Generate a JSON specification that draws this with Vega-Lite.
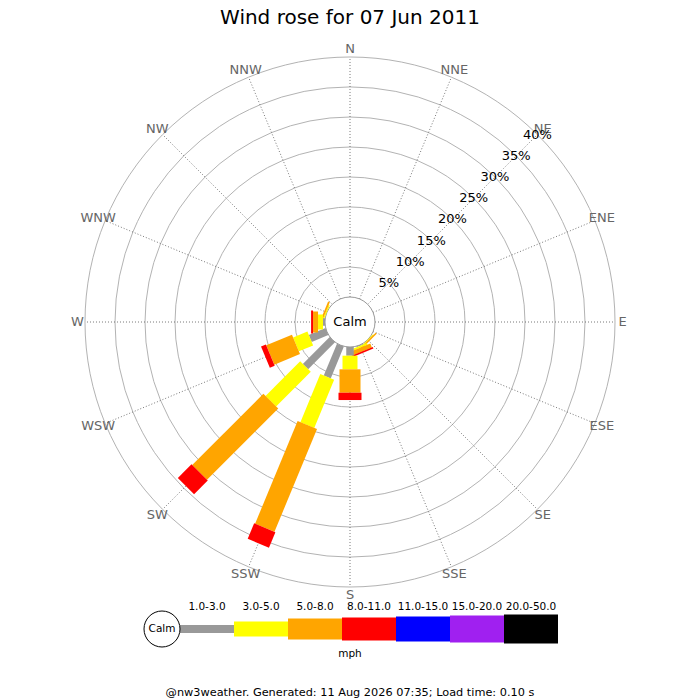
{
  "$schema": "https://vega.github.io/schema/vega-lite/v6.json",
  "padding": 0,
  "spacing": 0,
  "bounds": "flush",
  "usermeta": {"embedOptions": {"actions": false}},
  "config": {"view": {"stroke": null}, "font": "DejaVu Sans"},
  "datasets": {
    "dirs": [
      {"dir": "N", "deg": 0}, {"dir": "NNE", "deg": 22.5}, {"dir": "NE", "deg": 45}, {"dir": "ENE", "deg": 67.5},
      {"dir": "E", "deg": 90}, {"dir": "ESE", "deg": 112.5}, {"dir": "SE", "deg": 135}, {"dir": "SSE", "deg": 157.5},
      {"dir": "S", "deg": 180}, {"dir": "SSW", "deg": 202.5}, {"dir": "SW", "deg": 225}, {"dir": "WSW", "deg": 247.5},
      {"dir": "W", "deg": 270}, {"dir": "WNW", "deg": 292.5}, {"dir": "NW", "deg": 315}, {"dir": "NNW", "deg": 337.5}
    ],
    "rings": [
      {"p": 5}, {"p": 10}, {"p": 15}, {"p": 20}, {"p": 25}, {"p": 30}, {"p": 35}, {"p": 40}
    ],
    "winds": [
      {"dir": "SE", "cls": "3.0-5.0", "pct": 0.12},
      {"dir": "SE", "cls": "5.0-8.0", "pct": 0.25},
      {"dir": "SSE", "cls": "1.0-3.0", "pct": 0.15},
      {"dir": "SSE", "cls": "3.0-5.0", "pct": 0.3},
      {"dir": "SSE", "cls": "5.0-8.0", "pct": 0.7},
      {"dir": "SSE", "cls": "8.0-11.0", "pct": 0.25},
      {"dir": "S", "cls": "1.0-3.0", "pct": 1.45},
      {"dir": "S", "cls": "3.0-5.0", "pct": 2.27},
      {"dir": "S", "cls": "5.0-8.0", "pct": 3.9},
      {"dir": "S", "cls": "8.0-11.0", "pct": 1.22},
      {"dir": "SSW", "cls": "1.0-3.0", "pct": 5.75},
      {"dir": "SSW", "cls": "3.0-5.0", "pct": 8.67},
      {"dir": "SSW", "cls": "5.0-8.0", "pct": 18.53},
      {"dir": "SSW", "cls": "8.0-11.0", "pct": 2.8},
      {"dir": "SW", "cls": "1.0-3.0", "pct": 6.33},
      {"dir": "SW", "cls": "3.0-5.0", "pct": 8.17},
      {"dir": "SW", "cls": "5.0-8.0", "pct": 16.78},
      {"dir": "SW", "cls": "8.0-11.0", "pct": 3.22},
      {"dir": "WSW", "cls": "1.0-3.0", "pct": 3.0},
      {"dir": "WSW", "cls": "3.0-5.0", "pct": 2.58},
      {"dir": "WSW", "cls": "5.0-8.0", "pct": 4.63},
      {"dir": "WSW", "cls": "8.0-11.0", "pct": 0.88},
      {"dir": "WNW", "cls": "3.0-5.0", "pct": 0.2},
      {"dir": "WNW", "cls": "5.0-8.0", "pct": 0.3},
      {"dir": "W", "cls": "1.0-3.0", "pct": 0.33},
      {"dir": "W", "cls": "3.0-5.0", "pct": 0.83},
      {"dir": "W", "cls": "5.0-8.0", "pct": 0.83},
      {"dir": "W", "cls": "8.0-11.0", "pct": 0.33}
    ],
    "classes": [
      {"cls": "1.0-3.0", "lo": 1}, {"cls": "3.0-5.0", "lo": 3}, {"cls": "5.0-8.0", "lo": 5},
      {"cls": "8.0-11.0", "lo": 8}, {"cls": "11.0-15.0", "lo": 11}, {"cls": "15.0-20.0", "lo": 15},
      {"cls": "20.0-50.0", "lo": 20}
    ]
  },
  "vconcat": [
    {
      "width": 700,
      "height": 559,
      "title": {"text": "Wind rose for 07 Jun 2011", "fontSize": 20, "fontWeight": "normal", "color": "black", "offset": -28},
      "resolve": {"scale": {"size": "independent"}},
      "layer": [
        {
          "data": {"name": "rings"},
          "transform": [{"calculate": "pow(4.1667 + datum.p, 2)", "as": "r2"}],
          "mark": {"type": "point", "shape": "circle", "filled": false, "stroke": "#b3b3b3", "strokeWidth": 1, "opacity": 1},
          "encoding": {
            "x": {"datum": 0, "type": "quantitative", "scale": {"domain": [-58.3333, 58.3333], "nice": false, "zero": false}, "axis": null},
            "y": {"datum": 0, "type": "quantitative", "scale": {"domain": [-39.5, 53.6667], "nice": false, "zero": false}, "axis": null},
            "size": {"field": "r2", "type": "quantitative", "legend": null, "scale": {"type": "linear", "domain": [0, 1950.69], "range": [0, 280900], "zero": true}}
          }
        },
        {
          "data": {"name": "dirs"},
          "transform": [
            {"calculate": "4.1667 * sin(datum.deg * PI / 180)", "as": "x0"},
            {"calculate": "4.1667 * cos(datum.deg * PI / 180)", "as": "y0"},
            {"calculate": "44.1667 * sin(datum.deg * PI / 180)", "as": "x1"},
            {"calculate": "44.1667 * cos(datum.deg * PI / 180)", "as": "y1"}
          ],
          "mark": {"type": "rule", "color": "#555555", "strokeWidth": 0.8, "strokeDash": [1, 2]},
          "encoding": {
            "x": {"field": "x0", "type": "quantitative"},
            "y": {"field": "y0", "type": "quantitative"},
            "x2": {"field": "x1"},
            "y2": {"field": "y1"}
          }
        },
        {
          "data": {"values": [{"label": "Calm", "p": 0}]},
          "transform": [{"calculate": "pow(4.1667 + datum.p, 2)", "as": "r2"}],
          "mark": {"type": "point", "shape": "circle", "filled": true, "fill": "white", "stroke": "#999999", "strokeWidth": 1, "opacity": 1},
          "encoding": {
            "x": {"datum": 0, "type": "quantitative"},
            "y": {"datum": 0, "type": "quantitative"},
            "size": {"field": "r2", "type": "quantitative", "legend": null, "scale": {"type": "linear", "domain": [0, 1950.69], "range": [0, 280900], "zero": true}}
          }
        },
        {
          "data": {"name": "winds"},
          "transform": [
            {"lookup": "dir", "from": {"data": {"name": "dirs"}, "key": "dir", "fields": ["deg"]}},
            {"stack": "pct", "groupby": ["dir"], "sort": [{"field": "cls", "order": "ascending"}], "as": ["p0", "p1"]},
            {"calculate": "(4.1667 + datum.p0) * sin(datum.deg * PI / 180)", "as": "x0"},
            {"calculate": "(4.1667 + datum.p0) * cos(datum.deg * PI / 180)", "as": "y0"},
            {"calculate": "(4.1667 + datum.p1) * sin(datum.deg * PI / 180)", "as": "x1"},
            {"calculate": "(4.1667 + datum.p1) * cos(datum.deg * PI / 180)", "as": "y1"}
          ],
          "mark": {"type": "rule", "strokeCap": "butt"},
          "encoding": {
            "x": {"field": "x0", "type": "quantitative"},
            "y": {"field": "y0", "type": "quantitative"},
            "x2": {"field": "x1"},
            "y2": {"field": "y1"},
            "color": {
              "field": "cls", "type": "ordinal", "legend": null,
              "scale": {
                "domain": ["1.0-3.0", "3.0-5.0", "5.0-8.0", "8.0-11.0", "11.0-15.0", "15.0-20.0", "20.0-50.0"],
                "range": ["#999999", "#ffff00", "#ffa500", "#ff0000", "#0000ff", "#a020f0", "#000000"]
              }
            },
            "size": {
              "field": "cls", "type": "ordinal", "legend": null,
              "scale": {
                "type": "ordinal",
                "domain": ["1.0-3.0", "3.0-5.0", "5.0-8.0", "8.0-11.0", "11.0-15.0", "15.0-20.0", "20.0-50.0"],
                "range": [7.5, 15, 21, 23, 25, 27, 29]
              }
            }
          }
        },
        {
          "data": {"name": "dirs"},
          "transform": [
            {"calculate": "45.42 * sin(datum.deg * PI / 180)", "as": "tx"},
            {"calculate": "45.42 * cos(datum.deg * PI / 180)", "as": "ty"}
          ],
          "mark": {"type": "text", "fontSize": 13, "color": "#666666", "align": "center", "baseline": "middle"},
          "encoding": {
            "x": {"field": "tx", "type": "quantitative"},
            "y": {"field": "ty", "type": "quantitative"},
            "text": {"field": "dir"}
          }
        },
        {
          "data": {"name": "rings"},
          "transform": [
            {"calculate": "(4.1667 + datum.p) * 0.70711", "as": "tx"},
            {"calculate": "datum.p + '%'", "as": "label"}
          ],
          "mark": {"type": "text", "fontSize": 13, "color": "black", "align": "center", "baseline": "middle"},
          "encoding": {
            "x": {"field": "tx", "type": "quantitative"},
            "y": {"field": "tx", "type": "quantitative"},
            "text": {"field": "label"}
          }
        },
        {
          "data": {"values": [{"label": "Calm"}]},
          "mark": {"type": "text", "fontSize": 13, "color": "black", "align": "center", "baseline": "middle"},
          "encoding": {
            "x": {"datum": 0, "type": "quantitative"},
            "y": {"datum": 0, "type": "quantitative"},
            "text": {"field": "label"}
          }
        }
      ]
    },
    {
      "width": 700,
      "height": 140,
      "layer": [
        {
          "data": {"name": "classes"},
          "mark": {"type": "bar"},
          "encoding": {
            "x": {"aggregate": "count", "type": "quantitative", "stack": "zero", "scale": {"domain": [-3.3333, 9.6296], "nice": false, "zero": false}, "axis": null},
            "color": {"field": "cls", "type": "ordinal", "legend": null},
            "size": {
              "field": "cls", "type": "ordinal", "legend": null,
              "scale": {
                "type": "ordinal",
                "domain": ["1.0-3.0", "3.0-5.0", "5.0-8.0", "8.0-11.0", "11.0-15.0", "15.0-20.0", "20.0-50.0"],
                "range": [8, 15, 21, 23, 25, 27, 29]
              }
            },
            "order": {"field": "lo", "type": "quantitative"}
          }
        },
        {
          "data": {"name": "classes"},
          "mark": {"type": "text", "fontSize": 10.5, "color": "black", "dx": -27, "dy": -22},
          "encoding": {
            "x": {"aggregate": "count", "type": "quantitative", "stack": "zero"},
            "detail": {"field": "cls"},
            "order": {"field": "lo", "type": "quantitative"},
            "text": {"field": "cls"}
          }
        },
        {
          "data": {"values": [{"label": "Calm"}]},
          "mark": {"type": "point", "shape": "circle", "size": 1296, "filled": true, "fill": "white", "stroke": "black", "strokeWidth": 1, "opacity": 1},
          "encoding": {"x": {"datum": -0.3333, "type": "quantitative"}}
        },
        {
          "data": {"values": [{"label": "Calm"}]},
          "mark": {"type": "text", "fontSize": 10.5, "color": "black"},
          "encoding": {"x": {"datum": -0.3333, "type": "quantitative"}, "text": {"field": "label"}}
        },
        {
          "data": {"values": [{"label": "mph"}]},
          "mark": {"type": "text", "fontSize": 10.5, "color": "black", "dy": 25},
          "encoding": {"text": {"field": "label"}}
        },
        {
          "data": {"values": [{"label": "@nw3weather. Generated: 11 Aug 2026 07:35; Load time: 0.10 s"}]},
          "mark": {"type": "text", "fontSize": 11.3, "color": "black", "dy": 64},
          "encoding": {"text": {"field": "label"}}
        }
      ]
    }
  ]
}
